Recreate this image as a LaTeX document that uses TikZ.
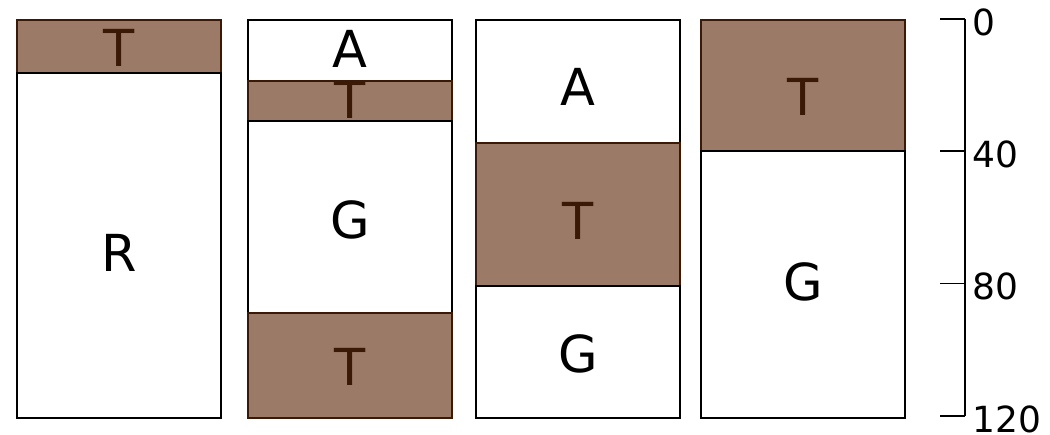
\documentclass[tikz,border=0pt]{standalone}
\usepackage{fontspec}
\setmainfont{DejaVu Sans}
\usetikzlibrary{positioning}
\definecolor{soilbrown}{RGB}{155,123,103}
\definecolor{soildark}{RGB}{58,26,6}

\begin{document}
\begin{tikzpicture}[x=1pt, y=-1pt,
  layer/.style={draw=black, line width=1.6pt, fill=white, minimum width=204pt,
                inner sep=0pt, outer sep=0pt},
  peat/.style={layer, draw=soildark, fill=soilbrown},
  lbl/.style={font=\fontsize{51}{51}\selectfont},
  plbl/.style={lbl, text=soildark},
  num/.style={font=\fontsize{36}{36}\selectfont, inner sep=0pt},
  tick/.style={line width=1.6pt}
]
\useasboundingbox (0,0) rectangle (1050,435);

% profile 1
\node[peat, minimum height=53pt, anchor=north west, label={[plbl, yshift=-1.5pt]center:T}] (p1t) at (17,20) {};
\node[layer, minimum height=345pt, below=0pt of p1t, label={[lbl, yshift=-7pt]center:R}] (p1r) {};

% profile 2
\node[layer, minimum height=61pt, anchor=north west, label={[lbl, yshift=1.5pt]center:A}] (p2a) at (248,20) {};
\node[peat, minimum height=40pt, below=0pt of p2a, label={[plbl, yshift=1pt]center:T}] (p2t) {};
\node[layer, minimum height=192pt, below=0pt of p2t, label={[lbl, yshift=-3pt]center:G}] (p2g) {};
\node[peat, minimum height=105pt, below=0pt of p2g, label={[plbl, yshift=-1.5pt]center:T}] (p2b) {};

% profile 3
\node[layer, minimum height=123pt, anchor=north west, label={[lbl, yshift=-5.5pt]center:A}] (p3a) at (476,20) {};
\node[peat, minimum height=143pt, below=0pt of p3a, label={[plbl, yshift=-6pt]center:T}] (p3t) {};
\node[layer, minimum height=132pt, below=0pt of p3t, label={[lbl, yshift=-2pt]center:G}] (p3g) {};

% profile 4
\node[peat, minimum height=131pt, anchor=north west, label={[plbl, yshift=-11pt]center:T}] (p4t) at (701,20) {};
\node[layer, minimum height=267pt, below=0pt of p4t, label={[lbl, yshift=3pt]center:G}] (p4g) {};

% depth scale
\coordinate (top) at (965,19);
\coordinate (bot) at (965,416);
\draw[tick] (top) -- (bot);
\foreach \d/\yy in {0/19, 40/151.3, 80/283.7, 120/416} {
  \coordinate (t\d) at (965,\yy);
  \draw[tick] ([xshift=-25pt]t\d) -- (t\d);
  \node[num, anchor=west, xshift=7pt, yshift=-3pt] (n\d) at (t\d) {\d};
}
\end{tikzpicture}
\end{document}
